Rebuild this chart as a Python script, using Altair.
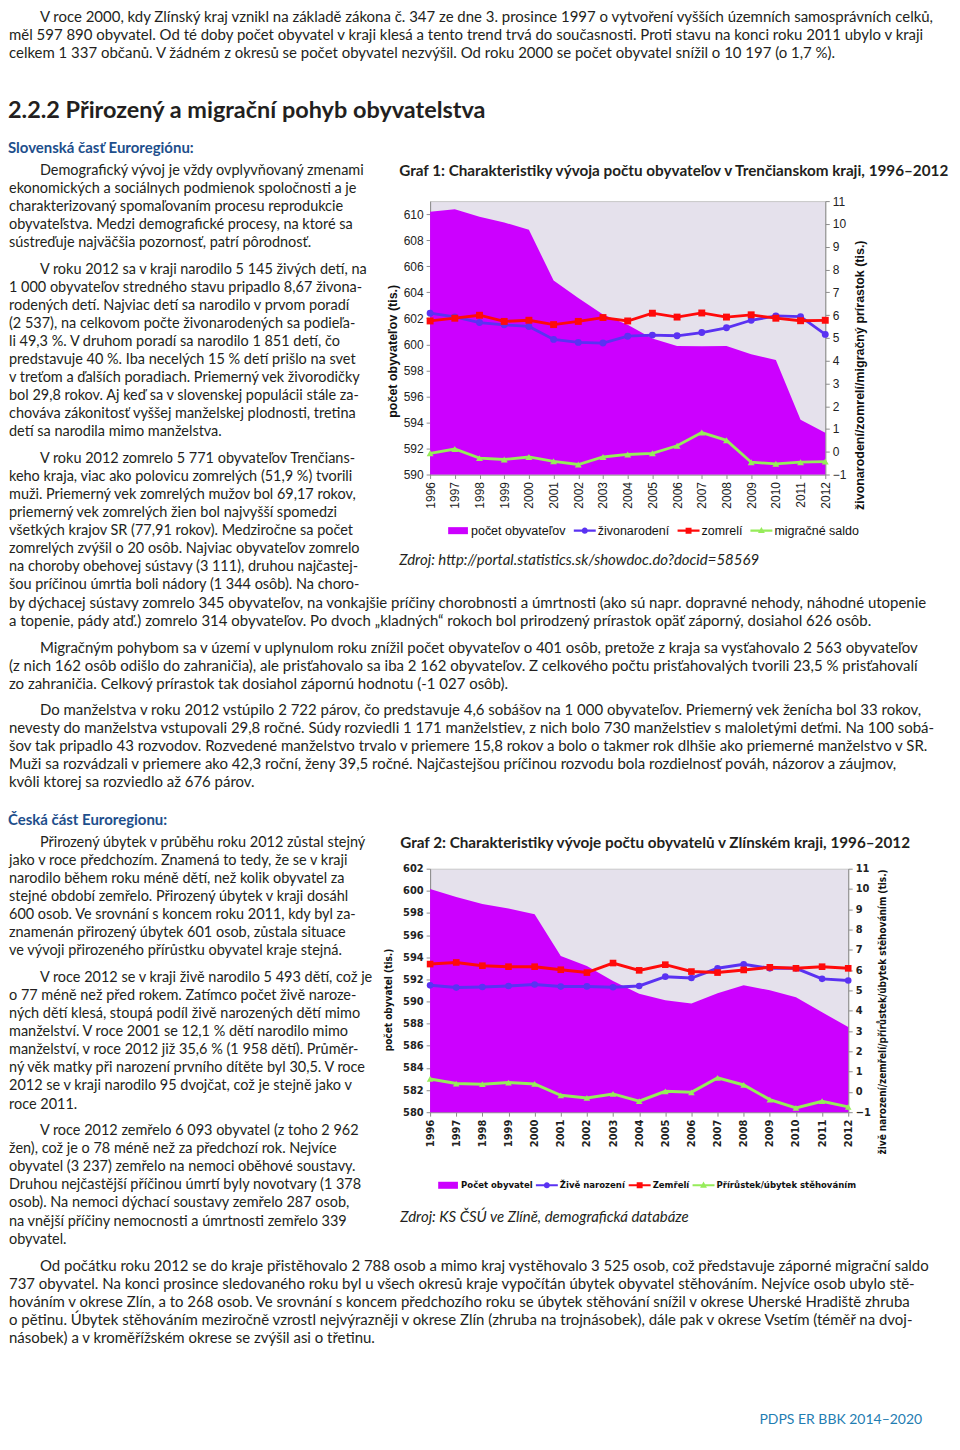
import altair as alt
import pandas as pd

# ---------------- data ----------------
years = ["1996", "1997", "1998", "1999", "2000", "2001", "2002", "2003", "2004",
         "2005", "2006", "2007", "2008", "2009", "2010", "2011", "2012"]

# Graf 1 - Trenčiansky kraj (tis.)
pop_tn = [610.18, 610.38, 609.80, 609.36, 608.80, 604.90, 603.56, 602.30, 601.50,
          600.45, 599.88, 599.86, 599.88, 599.24, 598.80, 594.20, 593.20]
births_tn = [6.08, 5.92, 5.67, 5.57, 5.50, 4.93, 4.80, 4.77, 5.07,
             5.12, 5.09, 5.23, 5.44, 5.77, 5.96, 5.93, 5.15]
deaths_tn = [5.74, 5.86, 5.99, 5.72, 5.77, 5.58, 5.72, 5.89, 5.74,
             6.08, 5.91, 6.09, 5.91, 6.01, 5.86, 5.75, 5.77]
migr_tn = [-0.07, 0.12, -0.28, -0.34, -0.23, -0.42, -0.56, -0.23, -0.12,
           -0.07, 0.26, 0.84, 0.50, -0.46, -0.53, -0.46, -0.43]
names_tn = ["počet obyvateľov", "živonarodení", "zomrelí", "migračné saldo"]
left_ticks_tn = [590, 592, 594, 596, 598, 600, 602, 604, 606, 608, 610]
right_ticks = [-1, 0, 1, 2, 3, 4, 5, 6, 7, 8, 9, 10, 11]

# Graf 2 - Zlínský kraj (tis.)
pop_zl = [600.17, 599.45, 598.82, 598.40, 597.89, 594.11, 593.20, 591.85, 590.71,
          590.11, 589.81, 590.74, 591.46, 591.01, 590.38, 589.03, 587.69]
births_zl = [5.25, 5.14, 5.17, 5.22, 5.29, 5.19, 5.20, 5.16, 5.22,
             5.68, 5.61, 6.09, 6.29, 6.09, 6.09, 5.57, 5.49]
deaths_zl = [6.30, 6.38, 6.22, 6.17, 6.17, 6.02, 5.88, 6.35, 5.99,
             6.27, 5.93, 5.88, 6.01, 6.14, 6.09, 6.17, 6.09]
migr_zl = [0.64, 0.41, 0.38, 0.46, 0.39, -0.17, -0.30, -0.10, -0.46,
           0.03, -0.02, 0.69, 0.34, -0.38, -0.79, -0.46, -0.74]
names_zl = ["Počet obyvatel", "Živě narození", "Zemřelí", "Přírůstek/úbytek stěhováním"]
left_ticks_zl = [580, 582, 584, 586, 588, 590, 592, 594, 596, 598, 600, 602]

# ---------------- texts ----------------
top_pars = [[
    "V roce 2000, kdy Zlínský kraj vznikl na základě zákona č. 347 ze dne 3. prosince 1997 o vytvoření vyšších územních samosprávních celků,",
    "měl 597 890 obyvatel. Od té doby počet obyvatel v kraji klesá a tento trend trvá do současnosti. Proti stavu na konci roku 2011 ubylo v kraji",
    "celkem 1 337 občanů. V žádném z okresů se počet obyvatel nezvýšil. Od roku 2000 se počet obyvatel snížil o 10 197 (o 1,7 %).",
]]
heading = "2.2.2 Přirozený a migrační pohyb obyvatelstva"
sk_title = "Slovenská časť Euroregiónu:"
sk_col_pars = [
    ["Demografický vývoj je vždy ovplyvňovaný zmenami",
     "ekonomických a sociálnych podmienok spoločnosti a je",
     "charakterizovaný spomaľovaním procesu reprodukcie",
     "obyvateľstva. Medzi demografické procesy, na ktoré sa",
     "sústreďuje najväčšia pozornosť, patrí pôrodnosť."],
    ["V roku 2012 sa v kraji narodilo 5 145 živých detí, na",
     "1 000 obyvateľov stredného stavu pripadlo 8,67 živona-",
     "rodených detí. Najviac detí sa narodilo v prvom poradí",
     "(2 537), na celkovom počte živonarodených sa podieľa-",
     "li 49,3 %. V druhom poradí sa narodilo 1 851 detí, čo",
     "predstavuje 40 %. Iba necelých 15 % detí prišlo na svet",
     "v treťom a ďalších poradiach. Priemerný vek živorodičky",
     "bol 29,8 rokov. Aj keď sa v slovenskej populácii stále za-",
     "chováva zákonitosť vyššej manželskej plodnosti, tretina",
     "detí sa narodila mimo manželstva."],
    ["V roku 2012 zomrelo 5 771 obyvateľov Trenčians-",
     "keho kraja, viac ako polovicu zomrelých (51,9 %) tvorili",
     "muži. Priemerný vek zomrelých mužov bol 69,17 rokov,",
     "priemerný vek zomrelých žien bol najvyšší spomedzi",
     "všetkých krajov SR (77,91 rokov). Medziročne sa počet",
     "zomrelých zvýšil o 20 osôb. Najviac  obyvateľov zomrelo",
     "na choroby obehovej sústavy (3 111), druhou najčastej-",
     "šou príčinou úmrtia boli nádory (1 344 osôb). Na choro-"],
]
sk_full_pars = [
    ["by dýchacej sústavy zomrelo 345 obyvateľov, na vonkajšie príčiny chorobnosti a úmrtnosti (ako sú napr. dopravné nehody, náhodné utopenie",
     "a topenie, pády atď.) zomrelo 314 obyvateľov. Po dvoch „kladných“ rokoch bol prirodzený prírastok opäť záporný, dosiahol  626 osôb."],
    ["Migračným pohybom sa v území v uplynulom roku znížil počet obyvateľov o 401 osôb, pretože z kraja sa vysťahovalo 2 563 obyvateľov",
     "(z nich 162 osôb odišlo do zahraničia), ale prisťahovalo sa iba 2 162 obyvateľov. Z celkového počtu prisťahovalých tvorili 23,5 % prisťahovalí",
     "zo zahraničia. Celkový prírastok tak dosiahol zápornú hodnotu (-1 027 osôb)."],
    ["Do manželstva v roku 2012 vstúpilo 2 722 párov, čo predstavuje 4,6 sobášov na 1 000 obyvateľov. Priemerný vek ženícha bol 33 rokov,",
     "nevesty do manželstva vstupovali 29,8 ročné. Súdy rozviedli 1 171 manželstiev, z nich bolo 730 manželstiev s maloletými deťmi. Na 100 sobá-",
     "šov tak pripadlo 43 rozvodov. Rozvedené manželstvo trvalo v priemere 15,8 rokov a bolo o takmer rok dlhšie ako priemerné manželstvo v SR.",
     "Muži sa rozvádzali v priemere ako 42,3 roční, ženy 39,5 ročné. Najčastejšou príčinou rozvodu bola rozdielnosť pováh, názorov a záujmov,",
     "kvôli ktorej sa rozviedlo až 676 párov."],
]
cz_title = "Česká část Euroregionu:"
cz_col_pars = [
    ["Přirozený úbytek v průběhu roku 2012 zůstal stejný",
     "jako v roce předchozím. Znamená to tedy, že se v kraji",
     "narodilo během roku méně dětí, než kolik obyvatel za",
     "stejné období zemřelo. Přirozený úbytek v kraji dosáhl",
     "600 osob. Ve srovnání s koncem roku 2011, kdy byl za-",
     "znamenán přirozený úbytek 601 osob, zůstala situace",
     "ve vývoji přirozeného přírůstku obyvatel kraje stejná."],
    ["V roce 2012 se v kraji živě narodilo 5 493 dětí, což je",
     "o 77 méně než před rokem. Zatímco počet živě naroze-",
     "ných dětí klesá, stoupá podíl živě narozených dětí mimo",
     "manželství. V roce 2001 se 12,1 % dětí narodilo mimo",
     "manželství, v roce 2012 již 35,6 % (1 958 dětí). Průměr-",
     "ný věk matky při narození prvního dítěte byl 30,5. V roce",
     "2012 se v kraji narodilo 95 dvojčat, což je stejně jako v",
     "roce 2011."],
    ["V roce 2012 zemřelo 6 093 obyvatel (z toho 2 962",
     "žen), což je o 78 méně než za předchozí rok. Nejvíce",
     "obyvatel (3 237) zemřelo na nemoci oběhové soustavy.",
     "Druhou nejčastější příčinou úmrtí byly novotvary (1 378",
     "osob). Na nemoci dýchací soustavy zemřelo 287 osob,",
     "na vnější příčiny nemocnosti a úmrtnosti zemřelo 339",
     "obyvatel."],
]
cz_full_pars = [[
    "Od počátku roku 2012 se do kraje přistěhovalo 2 788 osob a mimo kraj vystěhovalo 3 525 osob, což představuje záporné migrační saldo",
    "737 obyvatel. Na konci prosince sledovaného roku byl u všech okresů kraje vypočítán úbytek obyvatel stěhováním. Nejvíce osob ubylo stě-",
    "hováním v okrese Zlín, a to 268 osob. Ve srovnání s koncem předchozího roku se úbytek stěhování snížil v okrese Uherské Hradiště zhruba",
    "o pětinu. Úbytek stěhováním meziročně vzrostl nejvýrazněji v okrese Zlín (zhruba na trojnásobek), dále pak v okrese Vsetím (téměř na dvoj-",
    "násobek) a v kroměřížském okrese se zvýšil asi o třetinu.",
]]
graf1_title = "Graf 1: Charakteristiky vývoja počtu obyvateľov v Trenčianskom kraji, 1996–2012"
graf1_source = "Zdroj: http://portal.statistics.sk/showdoc.do?docid=58569"
graf2_title = "Graf 2: Charakteristiky vývoje počtu obyvatelů v Zlínském kraji, 1996–2012"
graf2_source = "Zdroj: KS ČSÚ ve Zlíně, demografická databáze"
footer = "PDPS ER BBK 2014–2020"

# ---------------- layout helpers ----------------
M = 8            # page margin
TW, TH = 364, 1434
INDENT = 31


def block(pars, y0, lh, gap, indents, x0=0):
    rows = []
    y = y0
    for par, ind in zip(pars, indents):
        for i, line in enumerate(par):
            rows.append({"x": x0 + (INDENT if (i == 0 and ind) else 0), "y": y - M, "t": line})
            y += lh
        y += gap
    return rows


def single(text, px, py):
    return [{"x": px - M, "y": py - M, "t": text}]


xs = alt.Scale(domain=[0, TW], nice=False, zero=False)
ys = alt.Scale(domain=[0, TH], nice=False, zero=False, reverse=True)


def text_layer(rows, **mk):
    return alt.Chart(pd.DataFrame(rows)).mark_text(align="left", baseline="middle", **mk).encode(
        x=alt.X("x:Q", scale=xs, axis=None),
        y=alt.Y("y:Q", scale=ys, axis=None),
        text="t:N",
    )


BODY = "Lato"
INK = "#231f20"
full_rows = (block(top_pars, 16, 18.0, 0, [True])
             + block(sk_full_pars, 603, 18.0, 8.5, [False, True, True])
             + block(cz_full_pars, 1267, 18.2, 0, [True]))
col_rows = (block(sk_col_pars, 170, 18.1, 8.3, [True, True, True])
            + block(cz_col_pars, 843, 18.15, 8.3, [True, True, True]))

text_view = alt.layer(
    text_layer(full_rows, font=BODY, fontSize=15, color=INK),
    text_layer(col_rows, font=BODY, fontSize=14.5, color=INK),
    text_layer(single(heading, 7, 110), font=BODY, fontSize=23.5, fontWeight="bold", color=INK),
    text_layer(single(sk_title, 7, 147) + single(cz_title, 7, 820), font=BODY, fontSize=15,
               fontWeight="bold", color="#1e4f8c"),
    text_layer(single(graf1_title, 399, 170) + single(graf2_title, 400, 843), font=BODY,
               fontSize=15.3, fontWeight="bold", color=INK),
    text_layer(single(graf1_source, 399, 560) + single(graf2_source, 400, 1218), font=BODY,
               fontSize=15, fontStyle="italic", color=INK),
    text_layer(single(footer, 760, 1421), font=BODY, fontSize=14, color="#1f7db2"),
).properties(width=TW, height=TH)

# ---------------- chart builder ----------------
AREA = "#cc00ff"
BLUE = "#5a32f2"
RED = "#ff0a0a"
GREEN = "#96ec5a"
PLOT_BG = "#e5e1ec"

P_AREA = "M-0.9,-0.32H0.9V0.32H-0.9Z"
P_LINE = "M-1,-0.1H1V0.1H-1Z "
P_CIRC = P_LINE + "M-0.28,0A0.28,0.28 0 1,1 0.28,0A0.28,0.28 0 1,1 -0.28,0Z"
P_SQ = P_LINE + "M-0.27,-0.27H0.27V0.27H-0.27Z"
P_TRI = P_LINE + "M0,-0.34L0.31,0.22H-0.31Z"


def make_chart(pop, births, deaths, migr, names, left_ticks, ldom, left_title, right_title,
               w, h, font, weight, fsize, tsize, lsize, ltitle, rtitle, leg_x, leg_y, lw, msize, colpad):
    df = pd.DataFrame({"year": years, "pop": pop})
    long = pd.DataFrame(
        [{"year": y, "series": names[1], "value": v} for y, v in zip(years, births)]
        + [{"year": y, "series": names[2], "value": v} for y, v in zip(years, deaths)]
        + [{"year": y, "series": names[3], "value": v} for y, v in zip(years, migr)]
    )
    color_scale = alt.Scale(domain=names, range=[AREA, BLUE, RED, GREEN])
    x = alt.X("year:O", scale=alt.Scale(type="point", padding=0),
              axis=alt.Axis(title=None, labelAngle=270, labelAlign="right", labelBaseline="middle",
                            labelFont=font, labelFontWeight=weight, labelFontSize=fsize,
                            labelColor="#222", tickSize=4, tickColor="#8c8c8c",
                            domainColor="#8c8c8c", labelPadding=3, grid=False))
    common = dict(grid=False, labelFont=font, labelFontWeight=weight, labelFontSize=fsize,
                  labelColor="#222", titleFont=font, titleFontWeight="bold",
                  titleFontSize=tsize, titleColor="#111", titleAngle=270,
                  titleAlign="center", titleBaseline="middle", tickSize=4,
                  tickColor="#8c8c8c", domainColor="#8c8c8c", labelPadding=3)
    area = alt.Chart(df).mark_area(color=AREA, opacity=1).encode(
        x=x,
        y=alt.Y("pop:Q", scale=alt.Scale(domain=ldom, nice=False, zero=False),
                axis=alt.Axis(title=left_title, values=left_ticks, orient="left",
                              titleX=ltitle[0], titleY=ltitle[1], **common)),
        y2=alt.datum(ldom[0]),
    )
    yr = alt.Y("value:Q", scale=alt.Scale(domain=[right_ticks[0], right_ticks[-1]], nice=False, zero=False),
               axis=alt.Axis(title=right_title, values=right_ticks, orient="right",
                             titleX=rtitle[0], titleY=rtitle[1], **common))
    col = alt.Color("series:N", scale=color_scale, legend=None)
    line = alt.Chart(long).mark_line(strokeWidth=lw).encode(x=x, y=yr, color=col)
    pts = []
    for nm, shp in zip(names[1:], ["circle", "square", "triangle-up"]):
        pts.append(alt.Chart(long).transform_filter(alt.datum.series == nm)
                   .mark_point(filled=True, shape=shp, size=msize, opacity=1)
                   .encode(x=x, y=yr, color=col))
    lines = alt.layer(line, *pts)
    leg = alt.Legend(title=None, orient="none", legendX=leg_x, legendY=leg_y, direction="horizontal",
                     labelFont=font, labelFontWeight=weight, labelFontSize=lsize, labelColor="#111",
                     symbolSize=484, symbolStrokeWidth=0, symbolOpacity=1, labelOffset=2,
                     columnPadding=colpad, labelLimit=300)
    # legend-only layer: its points sit outside the clipped view, so only the legend shows
    legend_layer = alt.Chart(pd.DataFrame({"series": names})).mark_point(
        filled=True, opacity=1, size=484, clip=True).encode(
        x=alt.value(-3000), y=alt.value(-3000),
        color=alt.Color("series:N", scale=color_scale, legend=leg),
        shape=alt.Shape("series:N", scale=alt.Scale(domain=names, range=[P_AREA, P_CIRC, P_SQ, P_TRI]),
                        legend=leg),
    )
    return alt.layer(area, lines, legend_layer).resolve_scale(
        y="independent", color="independent", shape="independent").properties(
        width=w, height=h, view=alt.ViewBackground(fill=PLOT_BG, stroke="#c8c8c8", strokeWidth=1))


F1 = "Liberation Sans, Arial, sans-serif"
F2 = "DejaVu Sans Condensed, Liberation Sans Narrow, Liberation Sans, sans-serif"
chart1 = make_chart(pop_tn, births_tn, deaths_tn, migr_tn, names_tn, left_ticks_tn, [590, 611],
                    "počet obyvateľov (tis.)", "živonarodení/zomrelí/migračný prírastok (tis.)",
                    396, 274, F1, "normal", 12, 12.5, 12.5, (-38, 150), (34, 174), 17, 319, 2.8, 48, 8)
chart2 = make_chart(pop_zl, births_zl, deaths_zl, migr_zl, names_zl, left_ticks_zl, [580, 602],
                    "počet obyvatel (tis.)", "živě narození/zemřelí/přírůstek/úbytek stěhováním (tis.)",
                    419, 244, F2, "bold", 11, 10, 9.5, (-42, 131), (34, 143), 7, 306, 3, 44, 3)

spacer_df = pd.DataFrame({"s": [0]})
sp1 = alt.Chart(spacer_df).mark_point(opacity=0).properties(width=396, height=192)
sp2 = alt.Chart(spacer_df).mark_point(opacity=0).properties(width=396, height=395)

right_col = alt.vconcat(sp1, chart1, sp2, chart2, spacing=0, bounds="flush")

chart = alt.hconcat(text_view, right_col, spacing=58, bounds="flush").properties(
    padding=0
).configure_view(strokeWidth=0)

chart.save("out.html", embed_options={"renderer": "svg", "actions": False})
